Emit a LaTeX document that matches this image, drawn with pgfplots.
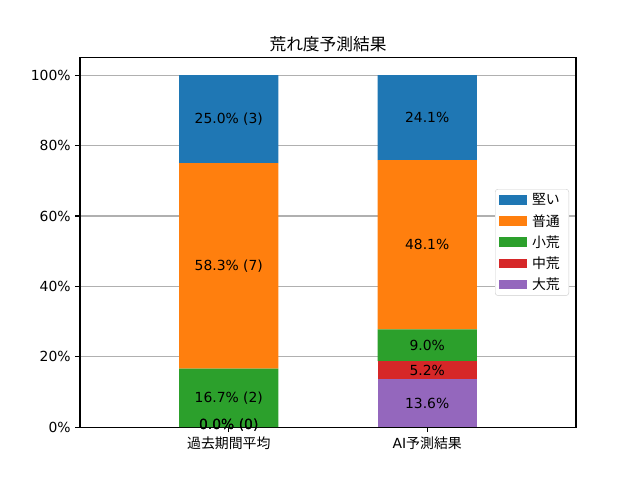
\documentclass[border=0pt]{standalone}
\usepackage{pgfplots}
\pgfplotsset{compat=1.18}
\usepackage{fontspec}
\setmainfont{DejaVu Sans}
\newfontfamily\jp{Noto Sans CJK JP}
\definecolor{cA}{HTML}{1F77B4}
\definecolor{cB}{HTML}{FF7F0E}
\definecolor{cC}{HTML}{2CA02C}
\definecolor{cD}{HTML}{D62728}
\definecolor{cE}{HTML}{9467BD}
\newcommand{\fs}{\fontsize{13.9bp}{16bp}\selectfont}
\begin{document}
\begin{tikzpicture}
\path[use as bounding box] (-80bp,-52.8bp) rectangle (560bp,427.2bp);
\begin{axis}[
  at={(0,0)}, anchor=south west,
  scale only axis, width=496bp, height=369.6bp,
  ybar stacked, bar width=0.5,
  xmin=-0.75, xmax=1.75, ymin=0, ymax=105,
  xtick={0,1}, xticklabels={{\jp 過去期間平均},{AI\jp 予測結果}},
  ytick={0,20,40,60,80,100},
  yticklabels={0\%,20\%,40\%,60\%,80\%,100\%},
  ymajorgrids, grid style={color=black!31, line width=1.1bp},
  axis line style={line width=1.1bp},
  tick style={black, line width=1.1bp},
  major tick length=4.9bp, tick align=outside, tick pos=left,
  tick label style={font=\fs},
  xticklabel style={yshift=-1bp},
  yticklabel style={xshift=-1bp},
  title={\jp 荒れ度予測結果},
  title style={font=\fontsize{16.7bp}{19bp}\selectfont, at={(0.5,1)}, anchor=south, yshift=-4bp},
  clip=false,
  reverse legend,
  legend cell align=left,
  every axis plot post/.append style={
    legend image code/.code={\fill[##1, sharp corners] (0bp,-4.8bp) rectangle (27.8bp,4.8bp);}},
  legend style={at={(1,0.5)}, anchor=east, xshift=-7bp,
    draw=black!20, rounded corners=2.8bp, fill=white,
    font=\fs\jp, inner xsep=4bp, inner ysep=2.5bp, row sep=4bp,
    nodes={inner xsep=5bp, inner ysep=2bp},
    /tikz/every even column/.append style={column sep=6bp}},
]
\addplot[fill=cE, draw=none] coordinates {(0,0) (1,13.6)};
\addplot[fill=cD, draw=none] coordinates {(0,0) (1,5.2)};
\addplot[fill=cC, draw=none] coordinates {(0,16.667) (1,9.0)};
\addplot[fill=cB, draw=none] coordinates {(0,58.333) (1,48.1)};
\addplot[fill=cA, draw=none] coordinates {(0,25.0) (1,24.1)};
\legend{大荒,中荒,小荒,普通,堅い}
\coordinate (a1) at (axis cs:0,87.5);
\coordinate (a2) at (axis cs:0,45.83);
\coordinate (a3) at (axis cs:0,8.33);
\coordinate (a4) at (axis cs:0,0);
\coordinate (b1) at (axis cs:1,87.95);
\coordinate (b2) at (axis cs:1,51.85);
\coordinate (b3) at (axis cs:1,23.3);
\coordinate (b4) at (axis cs:1,16.2);
\coordinate (b5) at (axis cs:1,6.8);
\end{axis}
\node[font=\fs] at (a1) {25.0\% (3)};
\node[font=\fs] at (a2) {58.3\% (7)};
\node[font=\fs] at (a3) {16.7\% (2)};
\node[font=\fs, yshift=2bp] at (a4) {0.0\% (0)};
\node[font=\fs, yshift=2bp] at (a4) {0.0\% (0)};
\node[font=\fs] at (b1) {24.1\%};
\node[font=\fs] at (b2) {48.1\%};
\node[font=\fs] at (b3) {9.0\%};
\node[font=\fs] at (b4) {5.2\%};
\node[font=\fs] at (b5) {13.6\%};
\end{tikzpicture}
\end{document}
